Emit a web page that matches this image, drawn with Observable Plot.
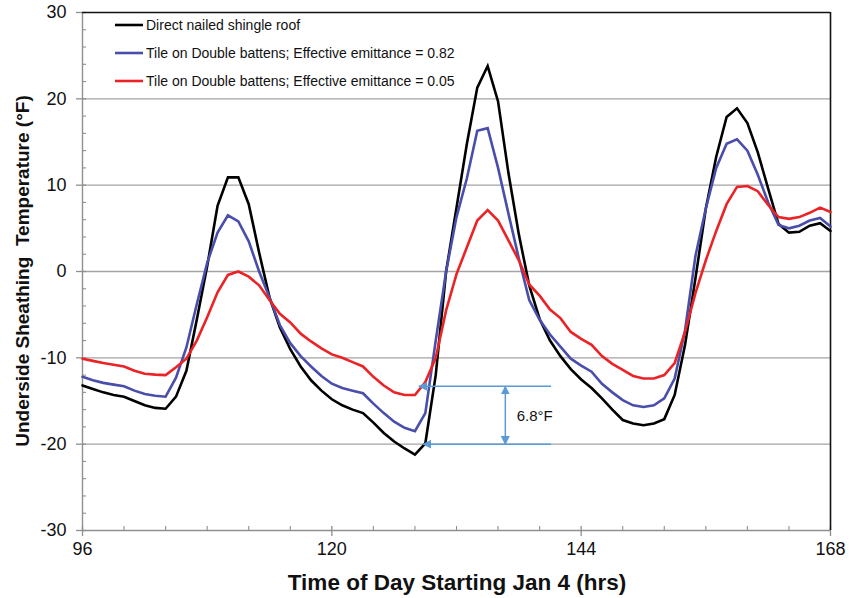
<!DOCTYPE html>
<html><head><meta charset="utf-8">
<script src="https://cdn.jsdelivr.net/npm/d3@7"></script>
<script src="https://cdn.jsdelivr.net/npm/@observablehq/plot@0.6"></script>
<style>
body{margin:0;background:#fff}
svg{display:block}
</style>
</head><body><div id="chart"></div>
<script>
// Hour of simulation (x) and temperatures (°F)
const hours = d3.range(96, 169);
const shingleRoof = [
 -13.2,-13.6,-14.0,-14.3,-14.5,-15.0,-15.5,-15.8,-15.9,-14.5,
 -11.5,-5.6,0.6,7.6,10.9,10.9,7.8,2.2,-3.0,-6.5,
 -9.0,-11.0,-12.6,-13.8,-14.8,-15.5,-16.0,-16.4,-17.5,-18.7,
 -19.7,-20.5,-21.2,-19.9,-12.0,0.0,7.4,14.8,21.3,23.8,
 19.7,11.4,4.3,-1.6,-5.5,-8.0,-9.8,-11.3,-12.5,-13.5,
 -14.7,-16.0,-17.2,-17.6,-17.8,-17.6,-17.1,-14.3,-8.5,-0.8,
 7.3,13.3,17.9,18.9,17.2,13.8,9.6,5.5,4.5,4.6,
 5.3,5.6,4.7
];
const tileEmit082 = [
 -12.2,-12.6,-12.9,-13.1,-13.3,-13.8,-14.2,-14.4,-14.5,-12.3,
 -8.8,-3.8,1.0,4.5,6.5,5.8,3.5,0.0,-3.0,-6.2,
 -8.3,-9.8,-11.0,-12.1,-13.0,-13.5,-13.8,-14.1,-15.3,-16.4,
 -17.4,-18.1,-18.5,-16.4,-8.0,0.0,6.3,10.8,16.3,16.6,
 12.0,6.7,1.5,-3.3,-5.6,-7.3,-8.7,-10.1,-10.9,-11.6,
 -13.0,-14.0,-14.9,-15.5,-15.7,-15.5,-14.7,-12.4,-6.8,1.8,
 7.3,12.0,14.8,15.3,14.0,11.2,8.0,5.4,5.0,5.3,
 5.9,6.2,5.2
];
const tileEmit005 = [
 -10.1,-10.35,-10.6,-10.8,-11.0,-11.5,-11.85,-11.95,-12.0,-11.1,
 -10.1,-8.0,-5.3,-2.4,-0.4,0.0,-0.6,-1.6,-3.3,-4.9,
 -5.9,-7.2,-8.1,-8.9,-9.6,-10.0,-10.5,-11.0,-12.2,-13.2,
 -14.0,-14.3,-14.3,-12.8,-10.0,-4.5,-0.3,2.8,5.9,7.1,
 5.9,3.6,1.3,-1.5,-2.8,-4.4,-5.4,-7.0,-7.8,-8.5,
 -9.8,-10.7,-11.4,-12.1,-12.4,-12.4,-12.0,-10.6,-7.0,-2.5,
 1.3,4.7,7.8,9.8,9.9,9.3,7.7,6.3,6.1,6.3,
 6.8,7.4,6.9
];
const seriesNames = [
 "Direct nailed shingle roof",
 "Tile on Double battens; Effective emittance = 0.82",
 "Tile on Double battens; Effective emittance = 0.05"
];
const seriesColors = ["#000000", "#4a4eab", "#ec2326"];
const xTicks = [96, 120, 144, 168];
const xMinorTicks = [100,104,108,112,116,124,128,132,136,140,148,152,156,160,164];
const yTicks = [-30, -20, -10, 0, 10, 20, 30];
const yMinorTicks = [-28,-26,-24,-22,-18,-16,-14,-12,-8,-6,-4,-2,2,4,6,8,12,14,16,18,22,24,26,28];
const gridValues = [-20, -10, 0, 10, 20];
// 6.8°F annotation (data units)
const annoLabel = "6.8°F";
const annoUpper = -13.3, annoLower = -20.0;
const annoArrowHours = [128.4, 128.8];
const annoLineEnd = 141.1;
const annoBracketHour = 136.7;
const annoTextPos = {hour: 137.8, value: -16.8};

const seriesValues = [shingleRoof, tileEmit082, tileEmit005];
const rows = [];
seriesValues.forEach((vals, i) => vals.forEach((v, j) => rows.push({hour: hours[j], value: v, series: seriesNames[i]})));

const annoLines = [
  {x1: annoLineEnd, x2: annoArrowHours[0], y: annoUpper},
  {x1: annoLineEnd, x2: annoArrowHours[1], y: annoLower}
];
const annoBracket = [{x: annoBracketHour, y1: annoUpper, y2: annoLower}];

const gridColor = "#a3a3a3";
const axisColor = "#8f8f8f";
const annoColor = "#5b9bd5";

const chart = Plot.plot({
  width: 849, height: 598,
  marginLeft: 82, marginRight: 19, marginTop: 12, marginBottom: 68,
  style: {fontFamily: "'Liberation Sans', Arial, sans-serif", fontSize: "18px", background: "#fff"},
  x: {domain: [96, 168], label: null},
  y: {domain: [-30, 30], label: null},
  color: {domain: seriesNames, range: seriesColors},
  marks: [
    Plot.ruleY(gridValues, {stroke: gridColor, strokeWidth: 1.4}),
    Plot.ruleY([-30], {stroke: axisColor, strokeWidth: 1.4}),
    Plot.ruleX([96], {stroke: axisColor, strokeWidth: 1.4}),
    Plot.axisX({ticks: xTicks, tickSize: 6, tickPadding: 6, fontSize: 18, stroke: axisColor, fill: "#111", strokeWidth: 1.3, tickFormat: d => String(d), label: null}),
    Plot.axisX({ticks: xTicks, tickSize: -4, stroke: axisColor, strokeWidth: 1.3, tickFormat: () => "", label: null}),
    Plot.axisX({ticks: xMinorTicks, tickSize: -4, stroke: axisColor, strokeWidth: 1.1, tickFormat: () => "", label: null}),
    Plot.axisY({ticks: yTicks, tickSize: 6, tickPadding: 10, fontSize: 18, stroke: axisColor, fill: "#111", strokeWidth: 1.3, tickFormat: d => String(d), label: null}),
    Plot.axisY({ticks: yTicks, tickSize: -4, stroke: axisColor, strokeWidth: 1.3, tickFormat: () => "", label: null}),
    Plot.axisY({ticks: yMinorTicks, tickSize: -4, stroke: axisColor, strokeWidth: 1.1, tickFormat: () => "", label: null}),
    Plot.ruleY([30], {stroke: "#111", strokeWidth: 1.6}),
    Plot.ruleX([168], {stroke: "#111", strokeWidth: 1.6}),
    Plot.line(rows, {x: "hour", y: "value", z: "series", stroke: "series", strokeWidth: 2.6, strokeLinejoin: "miter", strokeMiterlimit: 3}),
    Plot.link(annoLines, {x1: "x1", x2: "x2", y1: "y", y2: "y", stroke: annoColor, strokeWidth: 1.5}),
    Plot.link(annoBracket, {x1: "x", x2: "x", y1: "y1", y2: "y2", stroke: annoColor, strokeWidth: 1.5}),
    Plot.text([annoTextPos], {x: "hour", y: "value", text: () => annoLabel, textAnchor: "start", fontSize: 15, fill: "#111"})
  ]
});

const svg = d3.select(chart);
// filled arrowheads on the annotation links
const defs = svg.append("defs");
defs.append("marker").attr("id", "annoHead").attr("viewBox", "0 0 10 10")
  .attr("refX", 9).attr("refY", 5).attr("markerWidth", 6).attr("markerHeight", 6)
  .attr("markerUnits", "strokeWidth").attr("orient", "auto-start-reverse")
  .append("path").attr("d", "M0,0L10,5L0,10Z").attr("fill", annoColor);
svg.selectAll(`g[stroke="${annoColor}"] path`).attr("marker-end", "url(#annoHead)");
const bracketGroups = svg.selectAll(`g[stroke="${annoColor}"]`).nodes();
if (bracketGroups.length > 1) {
  d3.select(bracketGroups[bracketGroups.length - 1]).selectAll("path").attr("marker-start", "url(#annoHead)");
}

// legend (inside the plot area, top-left)
const legend = svg.append("g").attr("font-family", "'Liberation Sans', Arial, sans-serif")
  .attr("font-size", 14).attr("text-anchor", "start");
seriesNames.forEach((name, i) => {
  const y = 25 + i * 28;
  legend.append("line").attr("x1", 115).attr("x2", 143).attr("y1", y).attr("y2", y)
    .attr("stroke", seriesColors[i]).attr("stroke-width", 2.6);
  legend.append("text").attr("x", 146).attr("y", y).attr("dy", "0.35em").attr("fill", "#111")
    .attr("text-anchor", "start").text(name);
});

// axis titles
svg.append("text").attr("x", 457).attr("y", 590)
  .attr("text-anchor", "middle").attr("font-weight", "bold").attr("font-size", 22.5)
  .attr("font-family", "'Liberation Sans', Arial, sans-serif").attr("fill", "#111")
  .text("Time of Day Starting Jan 4 (hrs)");
svg.append("text").attr("transform", "translate(29,271) rotate(-90)")
  .attr("text-anchor", "middle").attr("font-weight", "bold").attr("font-size", 19)
  .attr("font-family", "'Liberation Sans', Arial, sans-serif").attr("fill", "#111")
  .style("white-space", "pre")
  .text("Underside Sheathing  Temperature (°F)");

document.getElementById("chart").appendChild(chart);
</script>
</body></html>
